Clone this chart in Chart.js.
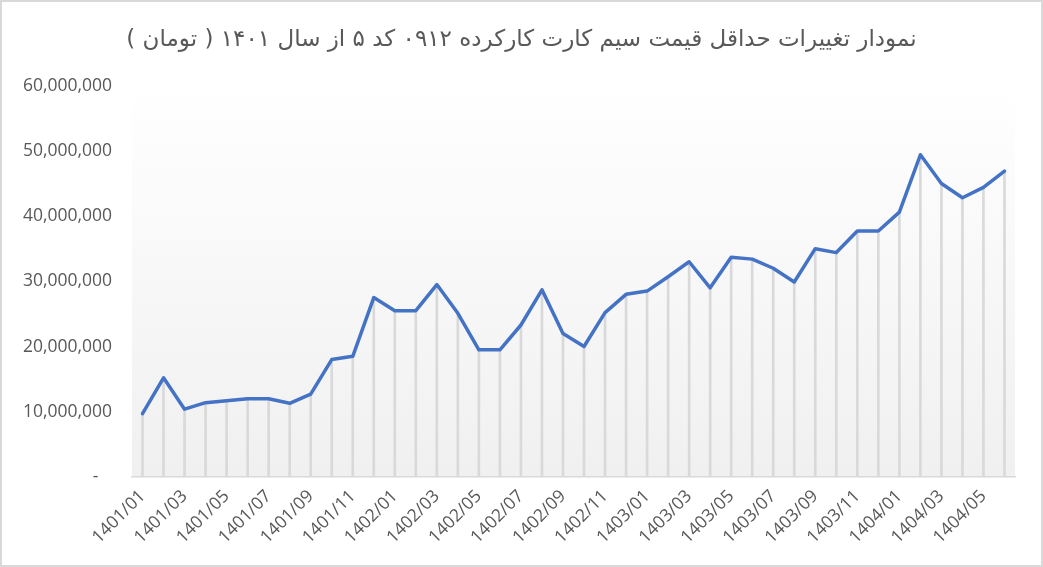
<!DOCTYPE html>
<html>
<head>
<meta charset="utf-8">
<script src="https://cdn.jsdelivr.net/npm/chart.js@4.4.0/dist/chart.umd.min.js"></script>
<style>
    body { margin: 0; background: #fff; }
    #wrap { width: 1039px; height: 563px; border: 2px solid #d9d9d9; }
</style>
</head>
<body>
<div id="wrap"><canvas id="priceChart" width="1039" height="563"></canvas></div>
<script>
const chartTitle = 'نمودار تغییرات حداقل قیمت سیم کارت کارکرده ۰۹۱۲ کد ۵ از سال ۱۴۰۱ ( تومان )';

const monthLabels = [
    '1401/01', '1401/02', '1401/03', '1401/04', '1401/05', '1401/06',
    '1401/07', '1401/08', '1401/09', '1401/10', '1401/11', '1401/12',
    '1402/01', '1402/02', '1402/03', '1402/04', '1402/05', '1402/06',
    '1402/07', '1402/08', '1402/09', '1402/10', '1402/11', '1402/12',
    '1403/01', '1403/02', '1403/03', '1403/04', '1403/05', '1403/06',
    '1403/07', '1403/08', '1403/09', '1403/10', '1403/11', '1403/12',
    '1404/01', '1404/02', '1404/03', '1404/04', '1404/05', '1404/06'
];

const minPrices = [
    9700000, 15200000, 10400000, 11400000, 11700000, 12000000,
    12000000, 11300000, 12700000, 18000000, 18500000, 27500000,
    25500000, 25500000, 29500000, 25100000, 19500000, 19500000,
    23300000, 28700000, 22000000, 20000000, 25200000, 28000000,
    28500000, 30700000, 33000000, 29000000, 33700000, 33400000,
    32000000, 29900000, 35000000, 34400000, 37700000, 37700000,
    40600000, 49400000, 45000000, 42800000, 44400000, 46900000
];

const yMin = 0;
const yMax = 60000000;
const yStep = 10000000;

// gradient fill behind the plot area
const plotBackground = {
    id: 'plotBackground',
    beforeDraw(chart) {
        const { ctx, chartArea: a } = chart;
        const g = ctx.createLinearGradient(0, a.top, 0, a.bottom);
        g.addColorStop(0, '#ffffff');
        g.addColorStop(1, '#f0f0f0');
        ctx.save();
        ctx.fillStyle = g;
        ctx.fillRect(a.left, a.top, a.right - a.left, a.bottom - a.top);
        ctx.restore();
    }
};

const tickFont = { family: 'Open Sans', size: 17.5 };

new Chart(document.getElementById('priceChart').getContext('2d'), {
    type: 'bar',
    data: {
        labels: monthLabels,
        datasets: [{
            type: 'line',
            data: minPrices,
            borderColor: '#4472c4',
            borderWidth: 3.5,
            pointRadius: 0,
            tension: 0,
            borderJoinStyle: 'round',
            borderCapStyle: 'round',
            fill: false,
            order: 0
        }, {
            type: 'bar',
            data: minPrices,
            backgroundColor: '#d9d9d9',
            borderWidth: 0,
            barThickness: 2,
            order: 1
        }]
    },
    options: {
        responsive: false,
        animation: false,
        layout: { padding: 0 },
        plugins: {
            legend: { display: false },
            tooltip: { enabled: false },
            title: {
                display: true,
                text: '\u202B' + chartTitle + '\u202C',
                color: '#595959',
                font: { family: 'DejaVu Sans', size: 23, weight: 'normal' },
                padding: { top: 24, bottom: 32 }
            }
        },
        scales: {
            x: {
                offset: true,
                grid: { display: false, drawTicks: false },
                border: { display: true, color: '#d9d9d9', width: 1.5 },
                ticks: {
                    autoSkip: false,
                    minRotation: 45,
                    maxRotation: 45,
                    padding: 9,
                    color: '#595959',
                    font: tickFont,
                    callback: (v, i) => i % 2 === 0 ? monthLabels[i] : ''
                },
                afterFit: s => { s.height = 88; }
            },
            y: {
                min: yMin,
                max: yMax,
                grid: { display: false, drawTicks: false },
                border: { display: false },
                ticks: {
                    stepSize: yStep,
                    padding: 20,
                    color: '#595959',
                    font: tickFont,
                    callback: v => v === 0 ? '-   ' : v.toLocaleString('en-US')
                },
                afterFit: s => { s.width = 130; }
            },
            // empty right-hand margin so the title stays centred on the canvas
            yRight: {
                position: 'right',
                min: yMin,
                max: yMax,
                grid: { display: false, drawTicks: false },
                border: { display: false },
                ticks: { display: false },
                afterFit: s => { s.width = 26; }
            }
        }
    },
    plugins: [plotBackground]
});
</script>
</body>
</html>
